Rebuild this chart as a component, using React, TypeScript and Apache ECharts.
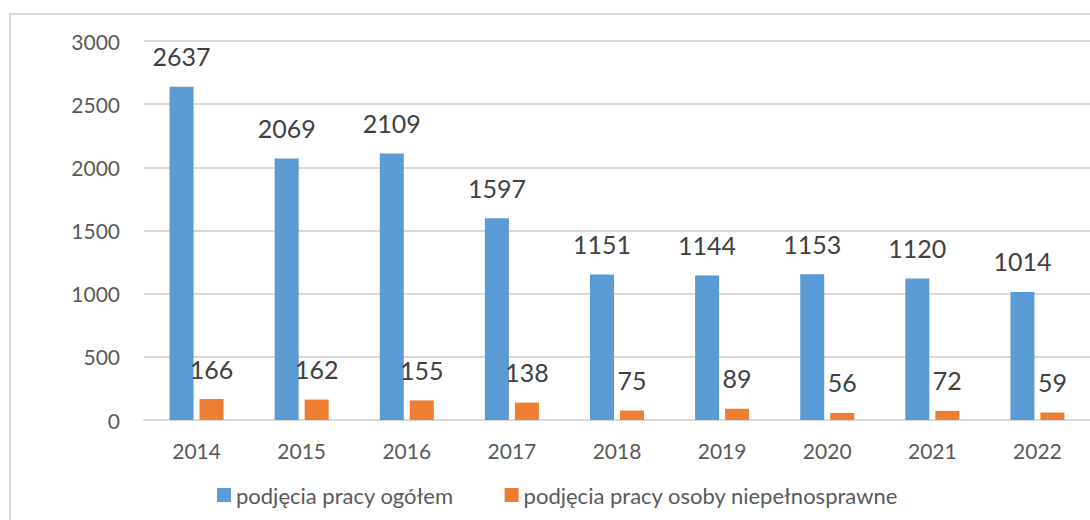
import React, { useEffect, useRef } from "react";
import * as echarts from "echarts";

const years = ["2014", "2015", "2016", "2017", "2018", "2019", "2020", "2021", "2022"];
const ogolem = [2637, 2069, 2109, 1597, 1151, 1144, 1153, 1120, 1014];
const niepelnosprawne = [166, 162, 155, 138, 75, 89, 56, 72, 59];
const seriesNames = ["podjęcia pracy ogółem", "podjęcia pracy osoby niepełnosprawne"];

const FONT = "Lato, 'Open Sans', sans-serif";

export default function App() {
  const ref = useRef<HTMLDivElement>(null);
  useEffect(() => {
    if (!ref.current) return;
    const chart = echarts.init(ref.current, undefined, { renderer: "svg" });
    const labelStyle = {
      show: true,
      position: "top",
      distance: 18,
      fontSize: 25,
      color: "#404040",
      fontFamily: FONT,
    };
    chart.setOption({
      animation: false,
      backgroundColor: "#ffffff",
      textStyle: { fontFamily: FONT },
      graphic: [
        {
          type: "rect",
          shape: { x: 10, y: 14, width: 1110, height: 540 },
          style: { fill: "none", stroke: "#D9D9D9", lineWidth: 2 },
          silent: true,
        },
      ],
      grid: { left: 144, right: -13, top: 41, bottom: 100, containLabel: false },
      legend: {
        top: 479,
        left: 212,
        itemWidth: 14,
        itemHeight: 14,
        itemGap: 51,
        icon: "rect",
        textStyle: { fontSize: 22, color: "#595959", fontFamily: FONT },
        data: seriesNames,
      },
      xAxis: {
        type: "category",
        data: years,
        axisLine: { lineStyle: { color: "#D9D9D9", width: 2 } },
        axisTick: { show: false },
        axisLabel: { fontSize: 21, color: "#595959", margin: 20, fontFamily: FONT },
      },
      yAxis: {
        type: "value",
        min: 0,
        max: 3000,
        interval: 500,
        axisLine: { show: false },
        axisTick: { show: false },
        splitLine: { lineStyle: { color: "#D9D9D9", width: 2 } },
        axisLabel: {
          fontSize: 21,
          color: "#595959",
          margin: 24,
          fontFamily: FONT,
          formatter: (v: number) => String(v),
        },
      },
      series: [
        {
          name: seriesNames[0],
          type: "bar",
          data: ogolem,
          barWidth: 24,
          barGap: "25%",
          itemStyle: { color: "#5B9BD5" },
          label: labelStyle,
        },
        {
          name: seriesNames[1],
          type: "bar",
          data: niepelnosprawne,
          barWidth: 24,
          barGap: "25%",
          itemStyle: { color: "#ED7D31" },
          label: labelStyle,
        },
      ],
    });
    return () => chart.dispose();
  }, []);
  return (
    <div
      ref={ref}
      style={{ position: "absolute", left: 0, top: 0, width: 1090, height: 520 }}
    />
  );
}
